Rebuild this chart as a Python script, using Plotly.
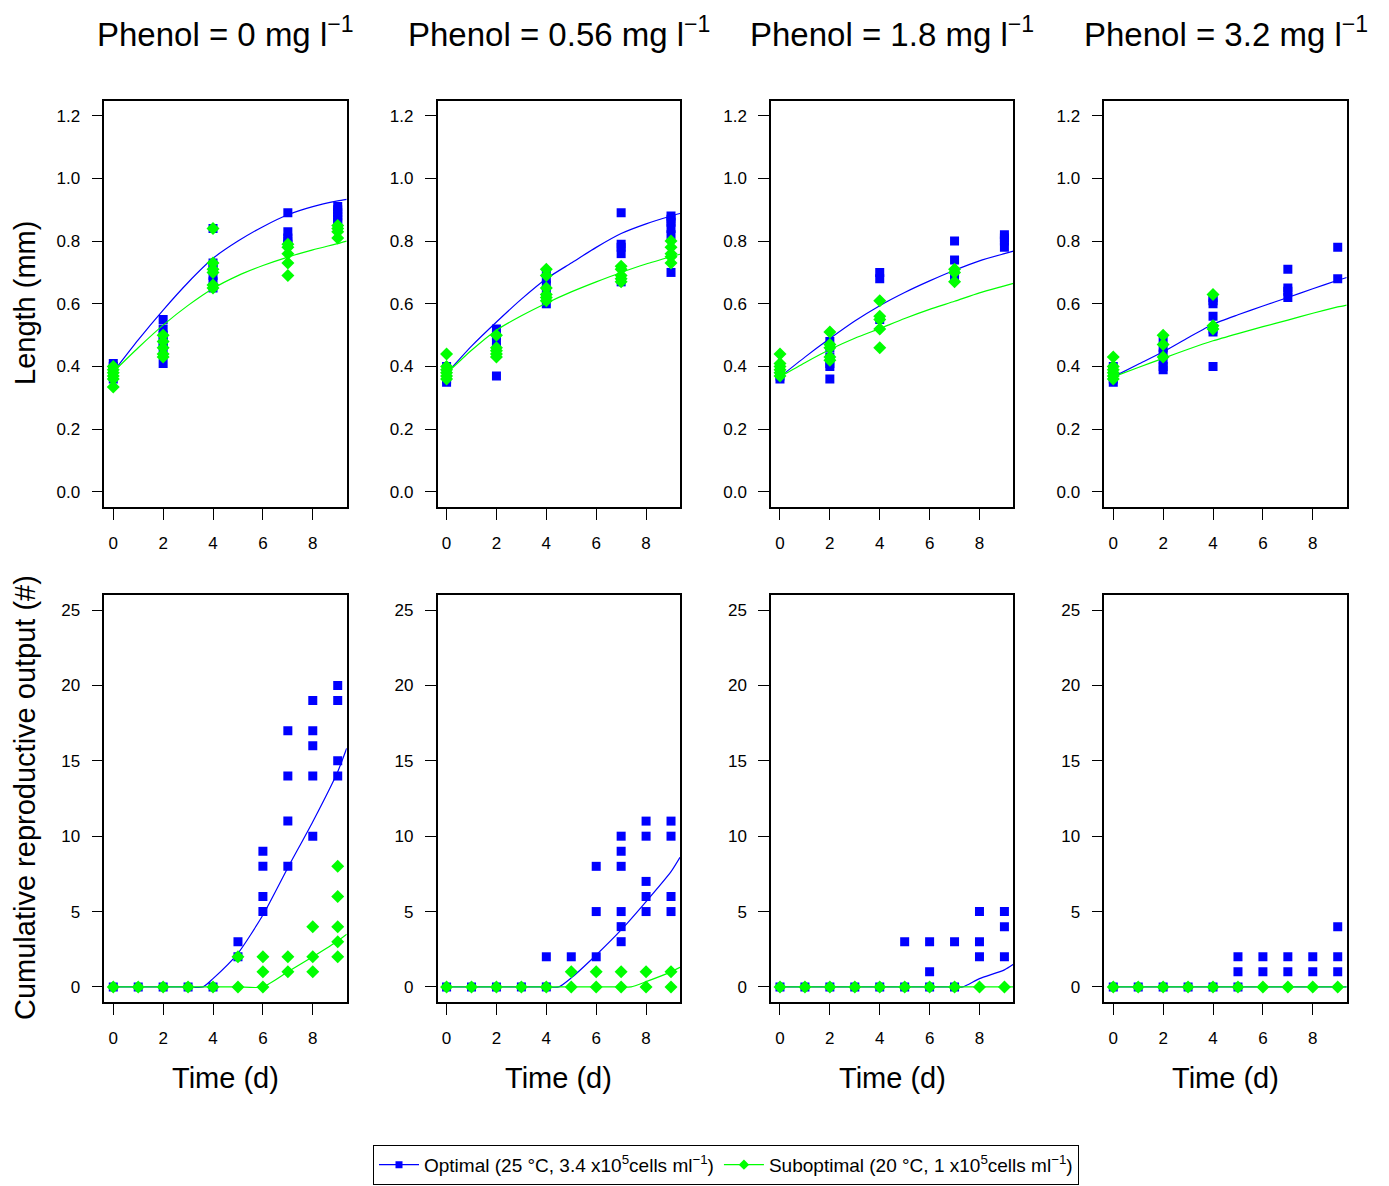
import plotly.graph_objects as go

# ---------------- data ----------------
PANEL_TITLES = ["Phenol = 0 mg l<sup>−1</sup>", "Phenol = 0.56 mg l<sup>−1</sup>",
                "Phenol = 1.8 mg l<sup>−1</sup>", "Phenol = 3.2 mg l<sup>−1</sup>"]
SERIES_NAMES = ["Optimal (25 °C, 3.4 x10<sup>5</sup>cells ml<sup>−1</sup>)",
                "Suboptimal (20 °C, 1 x10<sup>5</sup>cells ml<sup>−1</sup>)"]

# Length (mm) observations, days 0, 2, 4, 7, 9
LEN_DAYS = [0, 2, 4, 7, 9]
len_opt_p1 = [[0.41, 0.40, 0.39, 0.38, 0.37, 0.36], [0.55, 0.52, 0.50, 0.48, 0.46, 0.41],
              [0.84, 0.73, 0.71, 0.69, 0.67, 0.65], [0.89, 0.83, 0.81, 0.80, 0.79],
              [0.91, 0.90, 0.89, 0.88, 0.87, 0.86]]
len_sub_p1 = [[0.40, 0.39, 0.38, 0.37, 0.36, 0.335], [0.50, 0.48, 0.46, 0.44, 0.43],
              [0.84, 0.73, 0.71, 0.70, 0.66, 0.65], [0.79, 0.78, 0.76, 0.73, 0.69],
              [0.85, 0.84, 0.83, 0.81]]
len_opt_p2 = [[0.40, 0.39, 0.38, 0.37, 0.36, 0.35], [0.52, 0.50, 0.48, 0.46, 0.44, 0.37],
              [0.70, 0.68, 0.66, 0.64, 0.62, 0.60], [0.89, 0.79, 0.78, 0.76, 0.68, 0.67],
              [0.88, 0.87, 0.86, 0.84, 0.82, 0.70]]
len_sub_p2 = [[0.44, 0.40, 0.39, 0.38, 0.37, 0.36], [0.50, 0.46, 0.45, 0.44, 0.43],
              [0.71, 0.69, 0.65, 0.63, 0.62, 0.61], [0.72, 0.71, 0.69, 0.68, 0.67],
              [0.80, 0.78, 0.76, 0.75, 0.73]]
len_opt_p3 = [[0.40, 0.39, 0.38, 0.37, 0.36], [0.48, 0.46, 0.43, 0.41, 0.40, 0.36],
              [0.70, 0.68, 0.55], [0.80, 0.74, 0.70, 0.69], [0.82, 0.81, 0.80, 0.78]]
len_sub_p3 = [[0.44, 0.41, 0.40, 0.39, 0.38, 0.37], [0.51, 0.47, 0.46, 0.43, 0.42],
              [0.61, 0.56, 0.55, 0.52, 0.46], [0.71, 0.70, 0.67], []]
len_opt_p4 = [[0.40, 0.39, 0.38, 0.37, 0.36, 0.35], [0.48, 0.46, 0.44, 0.42, 0.40, 0.39],
              [0.62, 0.61, 0.60, 0.56, 0.52, 0.51, 0.40], [0.71, 0.65, 0.64, 0.62],
              [0.78, 0.68]]
len_sub_p4 = [[0.43, 0.40, 0.39, 0.38, 0.37, 0.36], [0.50, 0.47, 0.43],
              [0.63, 0.53, 0.52], [], []]

# fitted length curves
FIT_DAYS = [0, 1, 2, 3, 4, 5, 6, 7, 8, 9, 9.36]
fit_len_opt_p1 = [0.383, 0.485, 0.580, 0.668, 0.745, 0.800, 0.846, 0.884, 0.910, 0.928, 0.933]
fit_len_sub_p1 = [0.383, 0.460, 0.532, 0.595, 0.649, 0.690, 0.722, 0.749, 0.772, 0.792, 0.800]
fit_len_opt_p2 = [0.378, 0.465, 0.542, 0.615, 0.680, 0.730, 0.780, 0.824, 0.855, 0.880, 0.888]
fit_len_sub_p2 = [0.378, 0.452, 0.516, 0.562, 0.602, 0.638, 0.670, 0.700, 0.727, 0.750, 0.758]
fit_len_opt_p3 = [0.367, 0.430, 0.489, 0.545, 0.594, 0.636, 0.673, 0.707, 0.737, 0.760, 0.768]
fit_len_sub_p3 = [0.367, 0.412, 0.454, 0.490, 0.521, 0.553, 0.582, 0.608, 0.635, 0.657, 0.665]
fit_len_opt_p4 = [0.367, 0.407, 0.447, 0.492, 0.535, 0.565, 0.593, 0.620, 0.648, 0.675, 0.684]
fit_len_sub_p4 = [0.367, 0.397, 0.426, 0.455, 0.482, 0.505, 0.527, 0.548, 0.570, 0.590, 0.596]

# Cumulative reproductive output, days 0..9
REP_DAYS = [0, 1, 2, 3, 4, 5, 6, 7, 8, 9]
rep_opt_p1 = [[0], [0], [0], [0], [0], [3, 2], [9, 8, 6, 5], [17, 14, 11, 8],
              [19, 17, 16, 14, 10], [20, 19, 15, 14]]
rep_sub_p1 = [[0], [0], [0], [0], [0], [2, 0], [2, 1, 0], [2, 1], [4, 2, 1], [8, 6, 4, 3, 2]]
rep_opt_p2 = [[0], [0], [0], [0], [2, 0], [2], [8, 5, 2], [10, 9, 8, 5, 4, 3],
              [11, 10, 7, 6, 5], [11, 10, 6, 5]]
rep_sub_p2 = [[0], [0], [0], [0], [0], [1, 0], [1, 0], [1, 0], [1, 0], [1, 0]]
rep_opt_p3 = [[0], [0], [0], [0], [0], [3, 0], [3, 1, 0], [3, 0], [5, 3, 2], [5, 4, 2]]
rep_sub_p3 = [[0], [0], [0], [0], [0], [0], [0], [0], [0], [0]]
rep_opt_p4 = [[0], [0], [0], [0], [0], [2, 1, 0], [2, 1], [2, 1], [2, 1], [4, 2, 1]]
rep_sub_p4 = [[0], [0], [0], [0], [0], [0], [0], [0], [0], [0]]

# fitted reproduction curves
fit_rep_opt_p1_t = [0, 1, 2, 3, 3.6, 4, 5, 6, 7, 8, 9, 9.36]
fit_rep_opt_p1 = [0, 0, 0, 0, 0, 0.55, 2.23, 4.77, 7.91, 10.96, 14.28, 15.83]
fit_rep_sub_p1_t = [0, 1, 2, 3, 4, 5, 6, 7, 8, 9, 9.36]
fit_rep_sub_p1 = [0, 0, 0, 0, 0, 0, 0, 1.0, 2.0, 3.05, 3.5]
fit_rep_opt_p2_t = [0, 1, 2, 3, 4, 4.5, 5, 6, 7, 8, 9, 9.36]
fit_rep_opt_p2 = [0, 0, 0, 0, 0, 0, 0.6, 2.12, 3.78, 5.66, 7.65, 8.6]
fit_rep_sub_p2_t = [0, 1, 2, 3, 4, 5, 6, 7, 7.4, 8, 9, 9.36]
fit_rep_sub_p2 = [0, 0, 0, 0, 0, 0, 0, 0, 0, 0.35, 1.0, 1.3]
fit_rep_opt_p3_t = [0, 1, 2, 3, 4, 5, 6, 7, 7.33, 8, 9, 9.36]
fit_rep_opt_p3 = [0, 0, 0, 0, 0, 0, 0, 0, 0, 0.55, 1.13, 1.5]
fit_rep_sub_p3_t = [0, 9.36]
fit_rep_sub_p3 = [0, 0]
fit_rep_opt_p4_t = [0, 9.36]
fit_rep_opt_p4 = [0, 0]
fit_rep_sub_p4_t = [0, 9.36]
fit_rep_sub_p4 = [0, 0]

# ---------------- styling ----------------
W, H = 1389, 1186
BLUE = "#0000FF"
GREEN = "#00FF00"
FONT = "Liberation Sans, Arial, sans-serif"

PANEL_LEFT = [104.3, 437.6, 771.0, 1104.3]
PANEL_W = 242.4
ROW_TOP = [(100.6, 507.0), (595.0, 1002.0)]


def flatten(days, groups):
    xs, ys = [], []
    for d, vals in zip(days, groups):
        for v in vals:
            xs.append(d)
            ys.append(v)
    return xs, ys


fig = go.Figure()

len_obs = [(len_opt_p1, len_sub_p1), (len_opt_p2, len_sub_p2),
           (len_opt_p3, len_sub_p3), (len_opt_p4, len_sub_p4)]
len_fit = [(fit_len_opt_p1, fit_len_sub_p1), (fit_len_opt_p2, fit_len_sub_p2),
           (fit_len_opt_p3, fit_len_sub_p3), (fit_len_opt_p4, fit_len_sub_p4)]
rep_obs = [(rep_opt_p1, rep_sub_p1), (rep_opt_p2, rep_sub_p2),
           (rep_opt_p3, rep_sub_p3), (rep_opt_p4, rep_sub_p4)]
rep_fit = [((fit_rep_opt_p1_t, fit_rep_opt_p1), (fit_rep_sub_p1_t, fit_rep_sub_p1)),
           ((fit_rep_opt_p2_t, fit_rep_opt_p2), (fit_rep_sub_p2_t, fit_rep_sub_p2)),
           ((fit_rep_opt_p3_t, fit_rep_opt_p3), (fit_rep_sub_p3_t, fit_rep_sub_p3)),
           ((fit_rep_opt_p4_t, fit_rep_opt_p4), (fit_rep_sub_p4_t, fit_rep_sub_p4))]

mk_opt = dict(symbol="square", size=9, color=BLUE, line=dict(width=0))
mk_sub = dict(symbol="diamond", size=10, color=GREEN, line=dict(width=0))

for p in range(4):
    for row in range(2):
        n = p + 1 + 4 * row
        xa = "x" if n == 1 else f"x{n}"
        ya = "y" if n == 1 else f"y{n}"
        if row == 0:
            ox, oy = flatten(LEN_DAYS, len_obs[p][0])
            sx, sy = flatten(LEN_DAYS, len_obs[p][1])
            fo = (FIT_DAYS, len_fit[p][0])
            fs = (FIT_DAYS, len_fit[p][1])
        else:
            ox, oy = flatten(REP_DAYS, rep_obs[p][0])
            sx, sy = flatten(REP_DAYS, rep_obs[p][1])
            fo = rep_fit[p][0]
            fs = rep_fit[p][1]
        fig.add_trace(go.Scatter(x=ox, y=oy, mode="markers", marker=mk_opt,
                                 xaxis=xa, yaxis=ya, showlegend=False))
        fig.add_trace(go.Scatter(x=fo[0], y=fo[1], mode="lines",
                                 line=dict(color=BLUE, width=1.2, shape="spline", smoothing=0.6),
                                 xaxis=xa, yaxis=ya, showlegend=False))
        fig.add_trace(go.Scatter(x=sx, y=sy, mode="markers", marker=mk_sub,
                                 xaxis=xa, yaxis=ya, showlegend=False))
        fig.add_trace(go.Scatter(x=fs[0], y=fs[1], mode="lines",
                                 line=dict(color=GREEN, width=1.2, shape="spline", smoothing=0.6),
                                 xaxis=xa, yaxis=ya, showlegend=False))

# legend entries
fig.add_trace(go.Scatter(x=[None], y=[None], mode="lines+markers", name=SERIES_NAMES[0],
                         marker=dict(symbol="square", size=7, color=BLUE),
                         line=dict(color=BLUE, width=1.2)))
fig.add_trace(go.Scatter(x=[None], y=[None], mode="lines+markers", name=SERIES_NAMES[1],
                         marker=dict(symbol="diamond", size=8, color=GREEN),
                         line=dict(color=GREEN, width=1.2)))

layout = dict(
    width=W, height=H,
    margin=dict(l=0, r=0, t=0, b=0),
    paper_bgcolor="white", plot_bgcolor="white",
    font=dict(family=FONT, color="black"),
    showlegend=True,
    legend=dict(orientation="h", x=726 / W, xanchor="center", y=0.001, yanchor="bottom",
                bordercolor="black", borderwidth=1, bgcolor="white",
                font=dict(family=FONT, size=19, color="black"), itemwidth=40,
                tracegroupgap=0),
)

axis_common = dict(showline=True, linecolor="black", linewidth=1.5, mirror=True,
                   ticks="outside", ticklen=11, tickwidth=1.3, tickcolor="black",
                   showgrid=False, zeroline=False,
                   tickfont=dict(family=FONT, size=17, color="black"))

for p in range(4):
    x0 = PANEL_LEFT[p] / W
    x1 = (PANEL_LEFT[p] + PANEL_W) / W
    for row in range(2):
        n = p + 1 + 4 * row
        top, bot = ROW_TOP[row]
        yd = [1 - bot / H, 1 - top / H]
        xkey = "xaxis" if n == 1 else f"xaxis{n}"
        ykey = "yaxis" if n == 1 else f"yaxis{n}"
        layout[xkey] = dict(axis_common, domain=[x0, x1], range=[-0.36, 9.36],
                            tickvals=[0, 2, 4, 6, 8], anchor="y" if n == 1 else f"y{n}",
                            ticklabelstandoff=9)
        if row == 0:
            layout[ykey] = dict(axis_common, domain=yd, range=[-0.048, 1.248],
                                tickvals=[0, 0.2, 0.4, 0.6, 0.8, 1.0, 1.2], tickformat=".1f",
                                anchor="x" if n == 1 else f"x{n}", ticklabelstandoff=8)
        else:
            layout[ykey] = dict(axis_common, domain=yd, range=[-1, 26],
                                tickvals=[0, 5, 10, 15, 20, 25],
                                anchor="x" if n == 1 else f"x{n}", ticklabelstandoff=8)

fig.update_layout(**layout)

annotations = []
for p in range(4):
    cx = (PANEL_LEFT[p] + PANEL_W / 2) / W
    annotations.append(dict(text=PANEL_TITLES[p], x=cx, y=1 - 32 / H, xref="paper", yref="paper",
                            xanchor="center", yanchor="middle", showarrow=False,
                            font=dict(family=FONT, size=33, color="black")))
    annotations.append(dict(text="Time (d)", x=cx, y=1 - 1078 / H, xref="paper", yref="paper",
                            xanchor="center", yanchor="middle", showarrow=False,
                            font=dict(family=FONT, size=29, color="black")))
annotations.append(dict(text="Length (mm)", x=25 / W, y=1 - 303 / H, xref="paper", yref="paper",
                        xanchor="center", yanchor="middle", showarrow=False, textangle=-90,
                        font=dict(family=FONT, size=29, color="black")))
annotations.append(dict(text="Cumulative reproductive output (#)", x=25 / W, y=1 - 798 / H,
                        xref="paper", yref="paper", xanchor="center", yanchor="middle",
                        showarrow=False, textangle=-90,
                        font=dict(family=FONT, size=29, color="black")))
fig.update_layout(annotations=annotations)

fig.write_html("out.html", config={"displayModeBar": False},
               post_script="document.body.style.margin='0px';")
